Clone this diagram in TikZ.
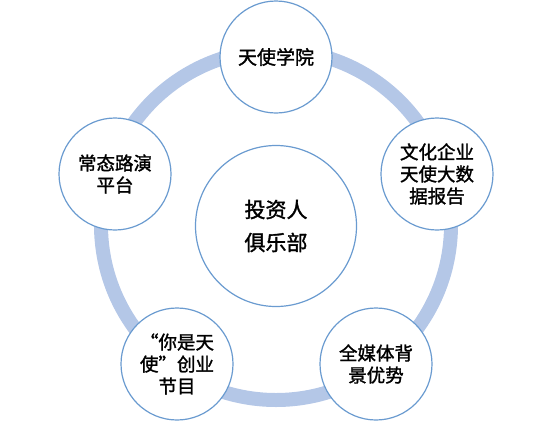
\documentclass[tikz,border=0pt]{standalone}
\usepackage{fontspec}
\newfontfamily\cjk{Noto Sans CJK SC}[FakeBold=1.5]
\definecolor{ringblue}{HTML}{B4C7E7}
\definecolor{circblue}{HTML}{6A9BD0}
\begin{document}
\begin{tikzpicture}[x=1pt,y=-1pt,
  sat/.style={circle,draw=circblue,line width=1.2pt,fill=white,minimum size=112pt,inner sep=0pt,align=center,text=black,font=\cjk\fontsize{18.5}{22}\selectfont},
  hub/.style={circle,draw=circblue,line width=1.2pt,fill=white,minimum size=161pt,inner sep=0pt,align=center,text=black,font=\cjk\fontsize{21}{33}\selectfont},
  ringstyle/.style={draw=ringblue,line width=14pt}]
\useasboundingbox (0,0) rectangle (554,421);
\coordinate (ringc) at (276,225);
\draw[ringstyle] (ringc) circle (175);
\node[hub] (club) at (276,226) {投资人\\俱乐部};
\node[sat,font=\cjk\fontsize{19}{23}\selectfont] (academy) at (276,57) {天使学院};
\node[sat] (roadshow) at (115,174) {常态路演\\平台};
\node[sat] (report) at (437,174) {文化企业\\天使大数\\据报告};
\node[sat] (show) at (177,364) {“你是天\\使”创业\\节目};
\node[sat] (media) at (376,364) {全媒体背\\景优势};
\end{tikzpicture}
\end{document}
